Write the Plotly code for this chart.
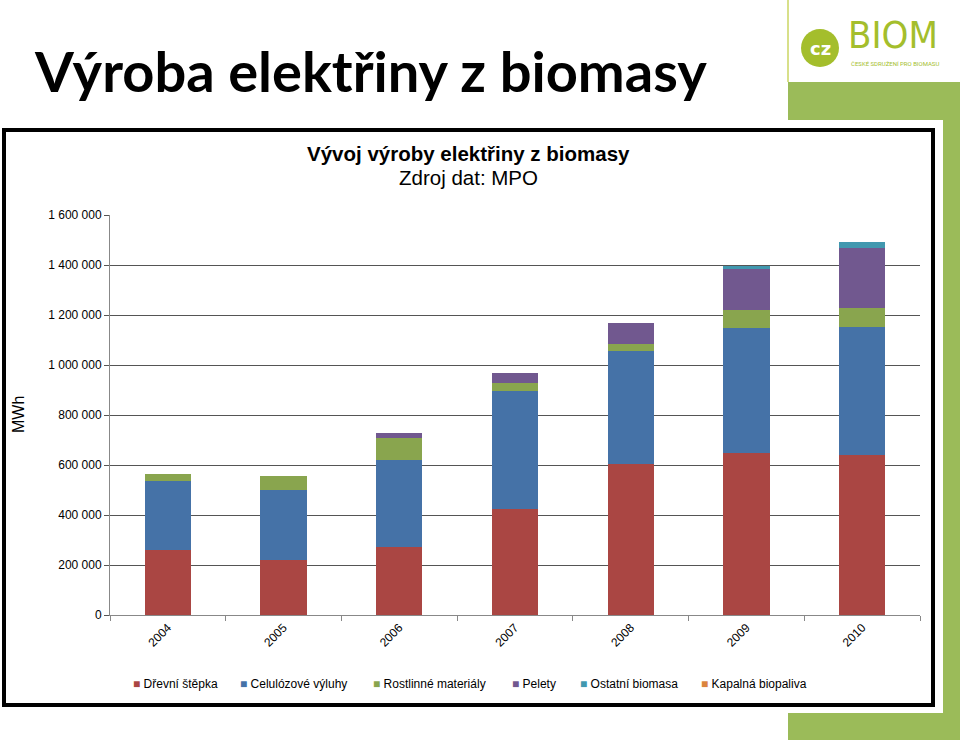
import plotly.graph_objects as go

years = ["2004", "2005", "2006", "2007", "2008", "2009", "2010"]
drevni_stepka = [260000, 220000, 271000, 424000, 604000, 648000, 639000]
celulozove_vyluhy = [277000, 279000, 348000, 473000, 453000, 499000, 514000]
rostlinne_materialy = [26000, 58000, 88000, 30000, 26000, 74000, 76000]
pelety = [0, 0, 22000, 40000, 84000, 163000, 240000]
ostatni_biomasa = [0, 0, 0, 0, 0, 13000, 22000]
kapalna_biopaliva = [0, 0, 0, 0, 0, 0, 0]

series = [
    ("Dřevní štěpka", drevni_stepka, "#AA4643"),
    ("Celulózové výluhy", celulozove_vyluhy, "#4572A7"),
    ("Rostlinné materiály", rostlinne_materialy, "#89A54E"),
    ("Pelety", pelety, "#71588F"),
    ("Ostatní biomasa", ostatni_biomasa, "#4198AF"),
    ("Kapalná biopaliva", kapalna_biopaliva, "#DB843D"),
]
# left edge of each legend entry (px)
legend_x = [131, 238, 371, 510, 578, 699]

W, H = 960, 740
green = "#9BBB59"


def px(x):
    return x / W


def py(y):
    return 1 - y / H


fig = go.Figure()
for name, vals, col in series:
    fig.add_trace(go.Bar(x=years, y=vals, name=name, marker_color=col,
                         marker_line_width=0, showlegend=False))

shapes = [
    # green slide decoration
    dict(type="rect", xref="paper", yref="paper", x0=px(788), x1=px(960), y0=py(120), y1=py(82),
         fillcolor=green, line_width=0, layer="below"),
    dict(type="rect", xref="paper", yref="paper", x0=px(943), x1=px(960), y0=py(740), y1=py(82),
         fillcolor=green, line_width=0, layer="below"),
    dict(type="rect", xref="paper", yref="paper", x0=px(788), x1=px(960), y0=py(740), y1=py(713),
         fillcolor=green, line_width=0, layer="below"),
    dict(type="line", xref="paper", yref="paper", x0=px(788), x1=px(788), y0=py(82), y1=py(0),
         line=dict(color="#D8E08A", width=2)),
    # chart frame
    dict(type="rect", xref="paper", yref="paper", x0=px(4), x1=px(933), y0=py(705), y1=py(130),
         fillcolor="white", line=dict(color="black", width=4), layer="below"),
    # logo circle
    dict(type="circle", xref="paper", yref="paper", x0=px(801), x1=px(839), y0=py(67), y1=py(29),
         fillcolor="#A4BE2C", line_width=0),
]

annotations = [
    dict(text="<b>Výroba elektřiny z biomasy</b>", x=px(32), y=py(70), xref="paper", yref="paper",
         xanchor="left", yanchor="middle", showarrow=False,
         font=dict(family="Lato", size=56, color="black")),
    dict(text="<b>Vývoj výroby elektřiny z biomasy</b>", x=px(468), y=py(153), xref="paper", yref="paper",
         xanchor="center", yanchor="middle", showarrow=False,
         font=dict(family="Liberation Sans", size=20.5, color="black")),
    dict(text="Zdroj dat: MPO", x=px(468), y=py(177), xref="paper", yref="paper",
         xanchor="center", yanchor="middle", showarrow=False,
         font=dict(family="Liberation Sans", size=20.5, color="black")),
    dict(text="MWh", x=px(18), y=py(415), xref="paper", yref="paper", textangle=-90,
         xanchor="center", yanchor="middle", showarrow=False,
         font=dict(family="Liberation Sans", size=16, color="black")),
    dict(text="<b>cz</b>", x=px(820), y=py(48), xref="paper", yref="paper",
         xanchor="center", yanchor="middle", showarrow=False,
         font=dict(family="DejaVu Sans", size=18, color="white")),
    dict(text="BIOM", x=px(846), y=py(35), xref="paper", yref="paper",
         xanchor="left", yanchor="middle", showarrow=False,
         font=dict(family="DejaVu Sans Condensed, Roboto", size=38, color="#A4BE2C")),
    dict(text="ČESKÉ SDRUŽENÍ PRO BIOMASU", x=px(849), y=py(63), xref="paper", yref="paper",
         xanchor="left", yanchor="middle", showarrow=False,
         font=dict(family="Roboto", size=6, color="#A4BE2C")),
]

for (name, vals, col), lx in zip(series, legend_x):
    annotations.append(dict(
        text=f'<span style="color:{col}">■</span> {name}', x=px(lx), y=py(684),
        xref="paper", yref="paper", xanchor="left", yanchor="middle", showarrow=False,
        font=dict(family="Liberation Sans", size=12, color="black")))

fig.update_layout(
    width=W, height=H,
    margin=dict(l=0, r=0, t=0, b=0, autoexpand=False),
    paper_bgcolor="white", plot_bgcolor="white",
    barmode="stack", bargap=0.6,
    separators=". ",
    font=dict(family="Liberation Sans", size=12, color="black"),
    shapes=shapes, annotations=annotations,
    xaxis=dict(domain=[px(110), px(920)], tickangle=-45, showline=True, linecolor="#888",
               ticks="outside", tickson="boundaries", ticklen=5, tickcolor="#888",
               tickfont=dict(size=12), automargin=False),
    yaxis=dict(domain=[py(615), py(215)], range=[0, 1600000], dtick=200000, tickformat=",d",
               showgrid=True, gridcolor="#555", gridwidth=1, showline=True, linecolor="#888",
               ticks="outside", ticklen=5, tickcolor="#555", tickfont=dict(size=12),
               zeroline=False, automargin=False),
)

# page body has a default margin; drop it so the figure sits at the window corner
fig.write_html("out.html", config={"displayModeBar": False},
               post_script="document.body.style.margin='0';document.body.style.overflow='hidden';")
